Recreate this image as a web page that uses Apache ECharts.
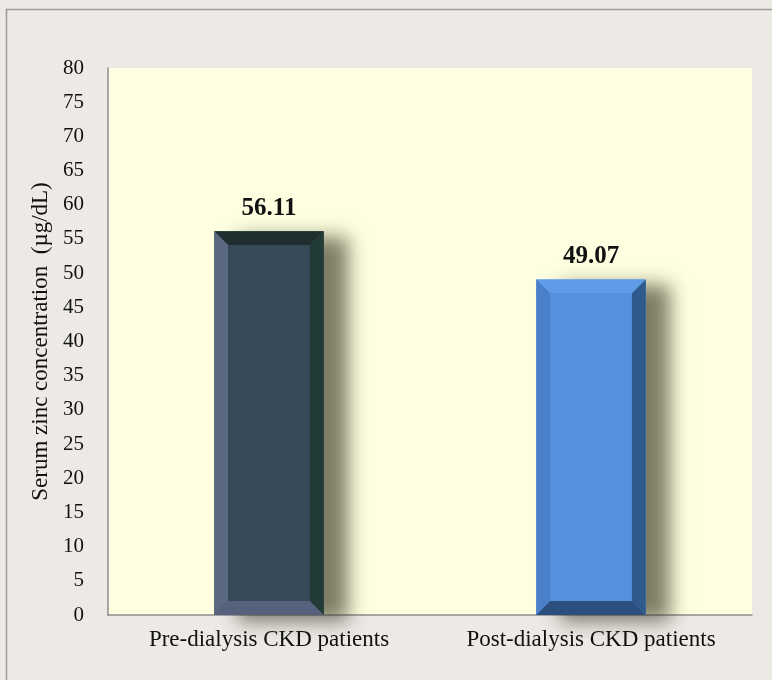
<!DOCTYPE html>
<html><head><meta charset="utf-8">
<script src="https://cdn.jsdelivr.net/npm/echarts@6/dist/echarts.min.js"></script>
<style>html,body{margin:0;padding:0;background:#edeae6}#c{width:772px;height:680px}</style>
</head><body><div id="c"></div>
<script>
const categories = ['Pre-dialysis CKD patients', 'Post-dialysis CKD patients'];
const values = [56.11, 49.07];
const labels = ['56.11', '49.07'];
const palettes = [
  {face:'#364a5a', top:'#1f2e2e', left:'#5b6882', right:'#233b37', bottom:'#56627d'},
  {face:'#5490dc', top:'#5f9be6', left:'#4a80c9', right:'#30598c', bottom:'#2c4f80'}
];
const chart = echarts.init(document.getElementById('c'));
const FONT = '"Liberation Serif", "Times New Roman", serif';
chart.setOption({
  backgroundColor: '#edeae6',
  animation: false,
  graphic: [
    {type:'rect', shape:{x:6.5, y:9.5, width:770, height:680}, style:{fill:'none', stroke:'#9a9a9a', lineWidth:1.5}, z:-10},
    {type:'rect', shape:{x:108, y:68, width:644, height:547}, style:{fill:'#fefee0'}, z:-5}
  ],
  grid: {left:108, right:20, top:68, bottom:65},
  xAxis: {
    type:'category', data: categories,
    axisLine:{lineStyle:{color:'#8c8c8c', width:1.5}},
    axisTick:{show:false},
    axisLabel:{color:'#111', fontFamily:FONT, fontSize:23, margin:13, interval:0, hideOverlap:false}
  },
  yAxis: {
    type:'value', min:0, max:80, interval:5,
    name:'Serum zinc concentration  (µg/dL)', nameLocation:'middle', nameGap:52,
    nameTextStyle:{color:'#111', fontFamily:FONT, fontSize:23},
    axisLine:{show:true, lineStyle:{color:'#8c8c8c', width:1.5}},
    axisTick:{show:false},
    splitLine:{show:false},
    axisLabel:{color:'#111', fontFamily:FONT, fontSize:21, margin:24}
  },
  series: [{
    type:'custom',
    data: values.map((v,i)=>[i,v]),
    renderItem: function(params, api){
      const i = api.value(0);
      const top = api.coord([i, api.value(1)]);
      const base = api.coord([i, 0]);
      const bw = api.size([1,0])[0]*0.34;
      const x0 = top[0]-bw/2, x1 = top[0]+bw/2, y0 = top[1], y1 = base[1];
      const b = 14;
      const p = palettes[i];
      return {type:'group', children:[
        {type:'rect', shape:{x:x0, y:y0, width:bw, height:y1-y0},
          style:{fill:p.face, shadowBlur:18, shadowOffsetX:24, shadowOffsetY:6, shadowColor:'rgba(40,40,20,0.6)'}},
        {type:'polygon', shape:{points:[[x0,y0],[x1,y0],[x1-b,y0+b],[x0+b,y0+b]]}, style:{fill:p.top}},
        {type:'polygon', shape:{points:[[x0,y0],[x0+b,y0+b],[x0+b,y1-b],[x0,y1]]}, style:{fill:p.left}},
        {type:'polygon', shape:{points:[[x1,y0],[x1,y1],[x1-b,y1-b],[x1-b,y0+b]]}, style:{fill:p.right}},
        {type:'polygon', shape:{points:[[x0,y1],[x0+b,y1-b],[x1-b,y1-b],[x1,y1]]}, style:{fill:p.bottom}},
        {type:'rect', shape:{x:x0+b, y:y0+b, width:bw-2*b, height:y1-y0-2*b}, style:{fill:p.face}},
        {type:'text', style:{text:labels[i], x:top[0], y:y0-10, align:'center', verticalAlign:'bottom',
          fill:'#111', font:'bold 25px ' + FONT}}
      ]};
    }
  }]
});
</script></body></html>
